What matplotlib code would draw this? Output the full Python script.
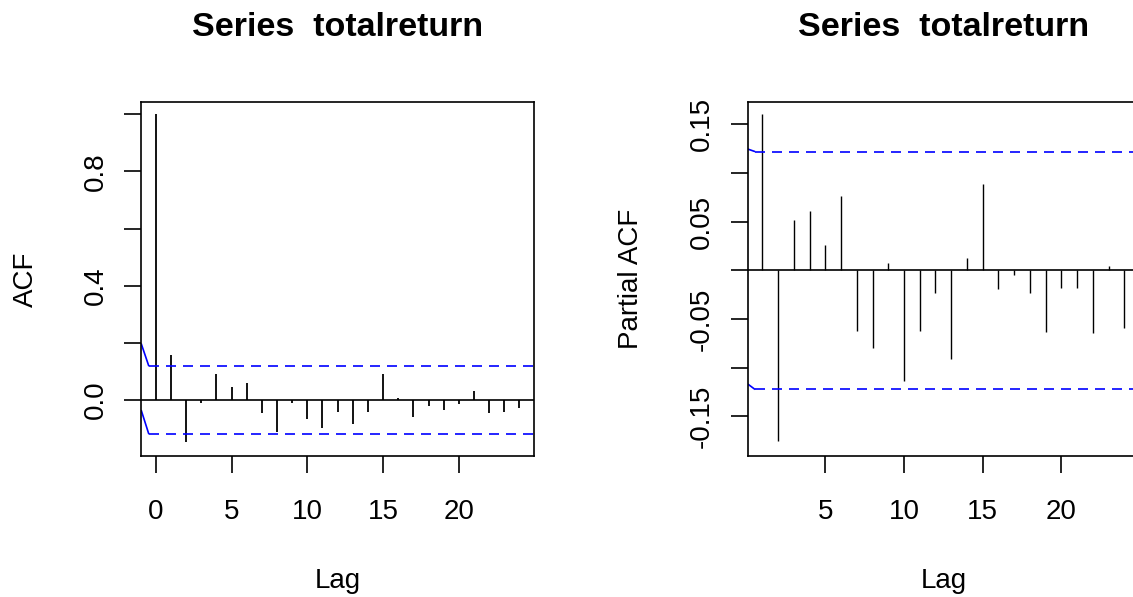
import matplotlib
matplotlib.use("Agg")
import matplotlib.pyplot as plt

plt.rcParams['font.family'] = ['Liberation Sans', 'DejaVu Sans']

# ---------------- data ----------------
title_text = "Series  totalreturn"

acf_lags = list(range(0, 25))
acf_vals = [1.0, 0.158, -0.146, -0.009, 0.090, 0.046, 0.058, -0.047, -0.111,
            -0.009, -0.065, -0.097, -0.041, -0.084, -0.041, 0.090, 0.007,
            -0.060, -0.021, -0.035, -0.015, 0.032, -0.047, -0.041, -0.029]
acf_ci = 0.119

pacf_lags = list(range(1, 25))
pacf_vals = [0.161, -0.176, 0.052, 0.061, 0.026, 0.076, -0.062, -0.080, 0.0075,
             -0.114, -0.062, -0.023, -0.091, 0.013, 0.089, -0.0195, -0.005,
             -0.023, -0.064, -0.018, -0.018, -0.065, 0.004, -0.059]
pacf_ci = 0.122

# small solid blue segments at the left edge of the confidence lines
acf_edge_x = [-0.97, -0.46]
acf_edge_upper = [0.198, 0.118]
acf_edge_lower = [-0.035, -0.120]
pacf_edge_x = [0.068, 0.53]
pacf_edge_upper = [0.1246, 0.122]
pacf_edge_lower = [-0.117, -0.1226]

acf_yticks = [0.0, 0.2, 0.4, 0.6, 0.8, 1.0]
acf_yticklabels = ["0.0", "", "0.4", "", "0.8", ""]
acf_xticks = [0, 5, 10, 15, 20]
pacf_yticks = [-0.15, -0.10, -0.05, 0.0, 0.05, 0.10, 0.15]
pacf_yticklabels = ["-0.15", "", "-0.05", "", "0.05", "", "0.15"]
pacf_xticks = [5, 10, 15, 20]

# ---------------- figure ----------------
W, H = 1133, 597
fig = plt.figure(figsize=(W / 100, H / 100), dpi=100)
fig.patch.set_facecolor('white')


def px_axes(left, top, right, bottom):
    return [left / W, 1 - bottom / H, (right - left) / W, (bottom - top) / H]


ax1 = fig.add_axes(px_axes(141.3, 102, 534.0, 455.7))
ax2 = fig.add_axes(px_axes(748.0, 102, 1138.7, 456.0))

FS = 20
TFS = 24.5
BLUE = '#0000ff'


def style(ax):
    for s in ax.spines.values():
        s.set_linewidth(1.2)
        s.set_color('black')
    ax.tick_params(axis='both', direction='out', length=12, width=1.2,
                   colors='black', labelsize=FS)
    ax.tick_params(axis='x', pad=19)
    ax.tick_params(axis='y', pad=11.7)


# ACF panel
ax1.vlines(acf_lags, 0, acf_vals, colors='black', lw=1.3)
ax1.axhline(0, color='black', lw=1.2)
ax1.plot(acf_edge_x, acf_edge_upper, color=BLUE, lw=1.2, solid_capstyle='butt')
ax1.plot(acf_edge_x, acf_edge_lower, color=BLUE, lw=1.2, solid_capstyle='butt')
ax1.plot([acf_edge_x[1], 25.5], [acf_ci, acf_ci], color=BLUE, lw=1.2,
         dashes=(6.0, 4.2))
ax1.plot([acf_edge_x[1], 25.5], [-acf_ci, -acf_ci], color=BLUE, lw=1.2,
         dashes=(6.0, 4.2))
ax1.set_xlim(-0.96, 24.96)
ax1.set_ylim(-0.195, 1.043)
ax1.set_xticks(acf_xticks)
ax1.set_yticks(acf_yticks, labels=acf_yticklabels, rotation=90, va='center')
style(ax1)
ax1.set_title(title_text, fontsize=TFS, fontweight='bold', pad=47.5)
ax1.set_xlabel('Lag', fontsize=FS, va='baseline')
ax1.xaxis.set_label_coords(0.5, (455.7 - 588) / 353.7)
ax1.set_ylabel('ACF', fontsize=FS, va='baseline', ha='center',
               rotation=90, rotation_mode='anchor')
ax1.yaxis.set_label_coords((33.3 - 141.3) / 392.7, 0.5)

# PACF panel
ax2.vlines(pacf_lags, 0, pacf_vals, colors='black', lw=1.0)
ax2.axhline(0, color='black', lw=1.2)
ax2.plot(pacf_edge_x, pacf_edge_upper, color=BLUE, lw=1.2, solid_capstyle='butt')
ax2.plot(pacf_edge_x, pacf_edge_lower, color=BLUE, lw=1.2, solid_capstyle='butt')
ax2.plot([pacf_edge_x[1], 25.5], [pacf_ci, pacf_ci], color=BLUE, lw=1.2,
         dashes=(6.0, 4.2))
ax2.plot([pacf_edge_x[1], 25.5], [-pacf_ci, -pacf_ci], color=BLUE, lw=1.2,
         dashes=(6.0, 4.2))
ax2.set_xlim(0.08, 24.92)
ax2.set_ylim(-0.191, 0.173)
ax2.set_xticks(pacf_xticks)
ax2.set_yticks(pacf_yticks, labels=pacf_yticklabels, rotation=90, va='center')
style(ax2)
ax2.set_title(title_text, fontsize=TFS, fontweight='bold', pad=47.5)
ax2.set_xlabel('Lag', fontsize=FS, va='baseline')
ax2.xaxis.set_label_coords(0.5, (456 - 588) / 354)
ax2.set_ylabel('Partial ACF', fontsize=FS, va='baseline', ha='center',
               rotation=90, rotation_mode='anchor')
ax2.yaxis.set_label_coords((638.3 - 748) / 390.7, 0.5)

fig.savefig('out.png', dpi=100, facecolor='white')
